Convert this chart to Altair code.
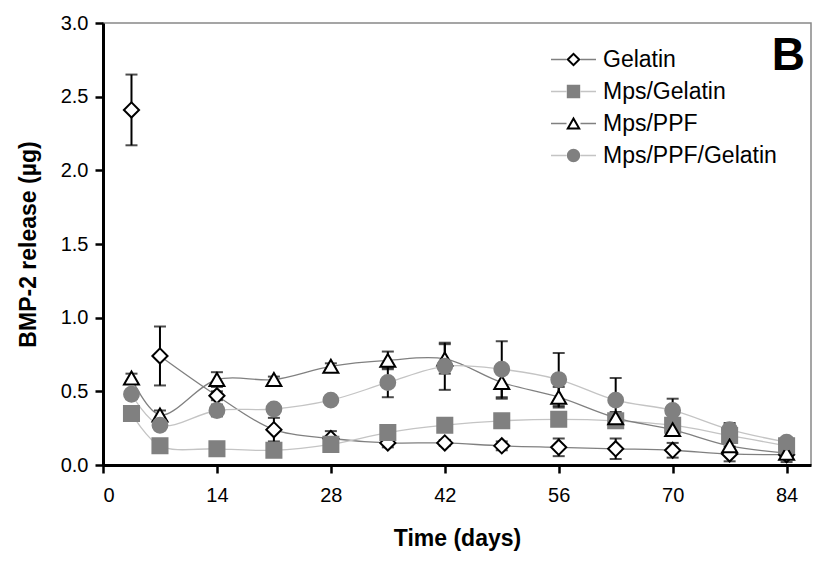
import altair as alt
import pandas as pd

days = [3.5, 7, 14, 21, 28, 35, 42, 49, 56, 63, 70, 77, 84]
series_names = ["Gelatin", "Mps/Gelatin", "Mps/PPF", "Mps/PPF/Gelatin"]

gelatin = [2.41, 0.74, 0.47, 0.24, 0.18, 0.15, 0.15, 0.13, 0.12, 0.11, 0.10, 0.075, 0.07]
gelatin_err = [0.24, 0.20, 0.03, 0.08, 0.05, 0.03, 0.02, 0.03, 0.06, 0.07, 0.05, 0.05, 0.05]
mps_gel = [0.35, 0.13, 0.11, 0.10, 0.14, 0.22, 0.27, 0.30, 0.31, 0.30, 0.27, 0.20, 0.13]
mps_gel_err = [0.03, 0.02, 0.02, 0.02, 0.02, 0.03, 0.03, 0.03, 0.03, 0.03, 0.03, 0.05, 0.02]
mps_ppf = [0.59, 0.34, 0.58, 0.58, 0.67, 0.71, 0.72, 0.56, 0.46, 0.32, 0.24, 0.13, 0.08]
mps_ppf_err = [0.03, 0.03, 0.05, 0.02, 0.02, 0.06, 0.10, 0.11, 0.07, 0.04, 0.04, 0.04, 0.02]
mps_ppf_gel = [0.48, 0.27, 0.37, 0.38, 0.44, 0.56, 0.67, 0.65, 0.58, 0.44, 0.37, 0.24, 0.155]
mps_ppf_gel_err = [0.03, 0.03, 0.04, 0.03, 0.03, 0.10, 0.16, 0.19, 0.18, 0.15, 0.08, 0.045, 0.02]

# whether each point is joined to the previous one by the smoothed line
gelatin_joined = [False] + [True] * 12

x_ticks = [0, 14, 28, 42, 56, 70, 84]
y_ticks = [0.0, 0.5, 1.0, 1.5, 2.0, 2.5, 3.0]

rows = []
for order, (name, vals, errs) in enumerate(zip(
        series_names,
        [gelatin, mps_gel, mps_ppf, mps_ppf_gel],
        [gelatin_err, mps_gel_err, mps_ppf_err, mps_ppf_gel_err])):
    for i, (d, v, e) in enumerate(zip(days, vals, errs)):
        on_line = gelatin_joined[i] if name == "Gelatin" else True
        rows.append(dict(day=d, series=name, line_series=name, order=order,
                         value=v, lo=max(v - e, 0), hi=v + e, on_line=on_line))
df = pd.DataFrame(rows)

FONT = "Liberation Sans"
Y_TITLE = "BMP-2 release (µg)"

x_enc = alt.X("day:Q", scale=alt.Scale(domain=[0, 87], nice=False, zero=False),
              axis=alt.Axis(values=x_ticks, title="Time (days)", format="d"))


def y_enc(field):
    return alt.Y(f"{field}:Q", scale=alt.Scale(domain=[0, 3], nice=False),
                 axis=alt.Axis(values=y_ticks, format=".1f", title=Y_TITLE))


base = alt.Chart(df)

LEG_Y = 25

# line-sample legend (no labels): an extra, invisible last entry keeps it
# separate from the marker legend
line_domain = series_names + ["~"]
line_legend = alt.Legend(
    title=None, orient="none", legendX=459, legendY=LEG_Y,
    symbolType="M-4.5,0L-1.4,0M1.4,0L4.5,0", symbolSize=100,
    symbolStrokeWidth=1.3, symbolFillColor="transparent",
    labelExpr="''", labelFontSize=23, labelFont=FONT, rowPadding=8,
    labelOffset=20,
)

lines = base.mark_line(interpolate="catmull-rom", strokeWidth=1.3).transform_filter(
    alt.datum.on_line
).encode(
    x=x_enc, y=y_enc("value"),
    color=alt.Color("line_series:N",
                    scale=alt.Scale(domain=line_domain,
                                    range=["#808080", "#c4c4c4", "#808080", "#c4c4c4",
                                           "rgba(0,0,0,0)"]),
                    legend=line_legend),
    order=alt.Order("day:Q"),
)

err_rules = base.mark_rule(color="black", strokeWidth=2).encode(
    x=x_enc, y=y_enc("lo"), y2="hi:Q")
cap_hi = base.mark_tick(color="black", orient="horizontal", size=12, thickness=2).encode(
    x=x_enc, y=y_enc("hi"))
cap_lo = base.mark_tick(color="black", orient="horizontal", size=12, thickness=2).encode(
    x=x_enc, y=y_enc("lo"))

pt_legend = alt.Legend(
    title=None, orient="none", legendX=459, legendY=LEG_Y,
    symbolSize=130, symbolStrokeWidth=2, symbolOpacity=1,
    labelFontSize=23, labelFont=FONT, labelColor="black", rowPadding=8,
    labelOffset=18, labelLimit=400,
)

points = base.mark_point(filled=True, opacity=1, strokeWidth=2).encode(
    x=x_enc, y=y_enc("value"),
    shape=alt.Shape("series:N",
                    scale=alt.Scale(domain=series_names,
                                    range=["diamond", "square", "triangle-up", "circle"]),
                    legend=pt_legend),
    fill=alt.Fill("series:N",
                  scale=alt.Scale(domain=series_names,
                                  range=["white", "#808080", "white", "#808080"]),
                  legend=pt_legend),
    stroke=alt.Stroke("series:N",
                      scale=alt.Scale(domain=series_names,
                                      range=["black", "#808080", "black", "#808080"]),
                      legend=pt_legend),
    size=alt.Size("order:O",
                  scale=alt.Scale(domain=[0, 1, 2, 3], range=[230, 220, 260, 260]),
                  legend=None),
    order=alt.Order("order:Q"),
)

panel_label = alt.Chart(pd.DataFrame({"label": ["B"]})).mark_text(
    text="B", font=FONT, fontSize=46, fontWeight="bold", color="black",
    align="right", baseline="alphabetic",
).encode(x=alt.value(702), y=alt.value(47))

chart = alt.layer(lines, err_rules, cap_hi, cap_lo, points, panel_label).properties(
    width=708, height=442,
    autosize=alt.AutoSizeParams(type="none"),
    padding={"left": 95, "top": 15, "right": 10, "bottom": 90},
).configure_view(
    stroke="#888888", strokeWidth=1.5
).configure_axis(
    domainColor="black", domainWidth=3, tickColor="black", tickWidth=2.5,
    tickSize=8, labelFont=FONT, labelFontSize=20, labelColor="black",
    titleFont=FONT, titleFontSize=23, titleFontWeight="bold", titleColor="black",
    grid=False,
).configure_axisX(
    labelPadding=12, titlePadding=22,
).configure_axisY(
    labelPadding=7, titlePadding=20,
)

chart.save("out.html", embed_options={"renderer": "svg", "actions": False})
